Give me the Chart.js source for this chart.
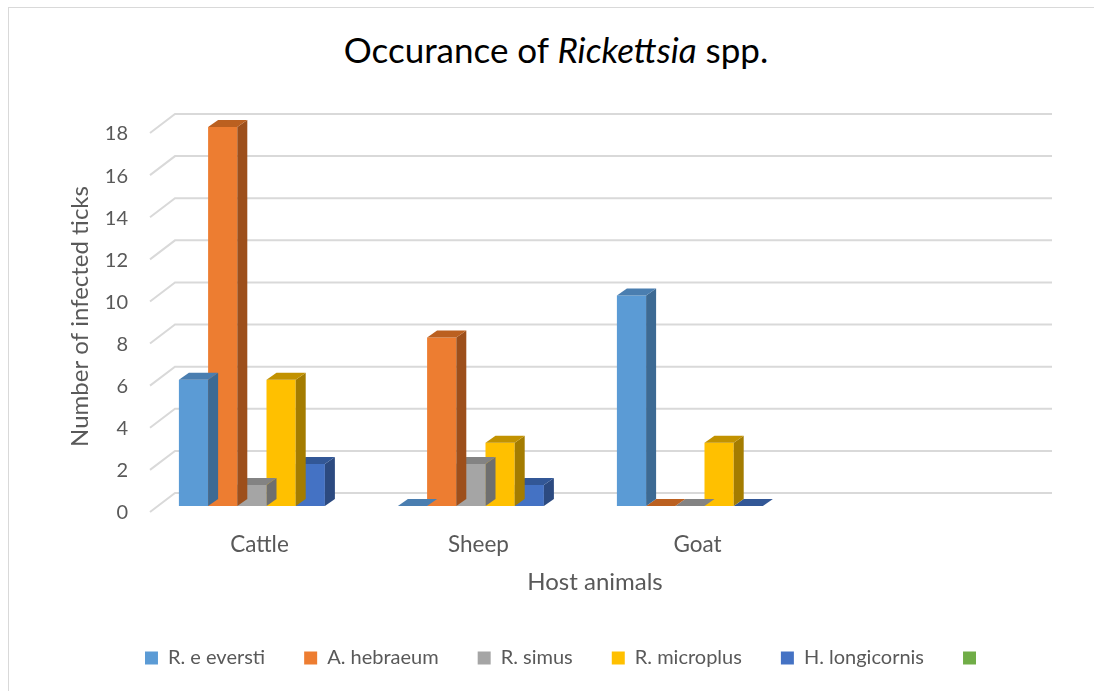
<!DOCTYPE html>
<html>
<head>
<meta charset="utf-8">
<script src="https://cdn.jsdelivr.net/npm/chart.js@4"></script>
<style>
  html, body { margin: 0; padding: 0; background: #fff; }
  #wrap { position: relative; width: 1094px; height: 691px; overflow: hidden; }
  #frame { position: absolute; left: 8px; top: 7px; width: 1200px; height: 800px; border: 1px solid #d9d9d9; }
  #title { position: absolute; left: 0; top: 28px; width: 1112px; text-align: center;
           font-family: Lato, sans-serif; font-size: 35px; color: #000; }
  canvas { position: absolute; left: 0; top: 0; }
</style>
</head>
<body>
<div id="wrap">
  <div id="frame"></div>
  <div id="title">Occurance of <i>Rickettsia</i> spp.</div>
  <canvas id="chart" width="1094" height="691"></canvas>
</div>
<script>
const hosts = ['Cattle', 'Sheep', 'Goat', ''];
const species = ['R. e eversti', 'A. hebraeum', 'R. simus', 'R. microplus', 'H. longicornis', ''];
const rEversti = [6, 0, 10, null];
const aHebraeum = [18, 8, 0, null];
const rSimus = [1, 2, 0, null];
const rMicroplus = [6, 3, 3, null];
const hLongicornis = [2, 1, 0, null];
const unnamed = [null, null, null, null];
const yTicks = [0, 2, 4, 6, 8, 10, 12, 14, 16, 18];

const fronts = ['#5b9bd5', '#ed7d31', '#a5a5a5', '#ffc000', '#4472c4', '#70ad47'];
const tops = ['#4a7eb0', '#bb6020', '#838383', '#c29200', '#325796', '#5a8c38'];
const sides = ['#3d6a93', '#9d4f1b', '#6f6f6f', '#a47c00', '#2c4a80', '#4b7530'];

const DX = 10, DY = 7;

const gridPlugin = {
    id: 'wallGrid',
    afterLayout(chart) {
        // nudge the legend a little to the right, like the original
        const lg = chart.legend;
        if (lg) { lg.left += 24; lg.right += 24; }
    },
    beforeDatasetsDraw(chart) {
        const ctx = chart.ctx;
        const y = chart.scales.y;
        const left = chart.chartArea.left;
        ctx.save();
        ctx.strokeStyle = '#d9d9d9';
        ctx.lineWidth = 2;
        yTicks.forEach(v => {
            const py = y.getPixelForValue(v);
            ctx.beginPath();
            ctx.moveTo(left - 7, py + 6);
            ctx.lineTo(left + 18, py - 13);
            ctx.lineTo(1052, py - 13);
            ctx.stroke();
        });
        ctx.restore();
    },
    afterDatasetDraw(chart, args) {
        const ctx = chart.ctx;
        const i = args.index;
        const meta = args.meta;
        ctx.save();
        meta.data.forEach((bar, j) => {
            const v = chart.data.datasets[i].data[j];
            if (v === null || v === undefined) return;
            const l = bar.x - bar.width / 2;
            const r = bar.x + bar.width / 2;
            const t = bar.y;
            const b = bar.base;
            // side face
            if (b - t > 0) {
                ctx.fillStyle = sides[i];
                ctx.beginPath();
                ctx.moveTo(r, t);
                ctx.lineTo(r + DX, t - DY);
                ctx.lineTo(r + DX, b - DY);
                ctx.lineTo(r, b);
                ctx.closePath();
                ctx.fill();
            }
            // top face
            ctx.fillStyle = tops[i];
            ctx.beginPath();
            ctx.moveTo(l, t);
            ctx.lineTo(l + DX, t - DY);
            ctx.lineTo(r + DX, t - DY);
            ctx.lineTo(r, t);
            ctx.closePath();
            ctx.fill();
        });
        ctx.restore();
    }
};

const seriesValues = [rEversti, aHebraeum, rSimus, rMicroplus, hLongicornis, unnamed];

new Chart(document.getElementById('chart'), {
    type: 'bar',
    data: {
        labels: hosts,
        datasets: species.map((name, i) => ({
            label: name,
            data: seriesValues[i],
            backgroundColor: fronts[i],
            borderWidth: 0,
            clip: false,
        })),
    },
    options: {
        responsive: false,
        animation: false,
        events: [],
        categoryPercentage: 0.8,
        barPercentage: 1,
        layout: { padding: { left: 50, right: 61, top: 127, bottom: 13 } },
        scales: {
            x: {
                grid: { display: false },
                border: { display: false },
                ticks: { color: '#595959', font: { family: 'Lato', size: 22.5 }, padding: 17, labelOffset: -7 },
                title: { display: true, text: 'Host animals', color: '#595959',
                         font: { family: 'Lato', size: 24 }, padding: { top: 4, bottom: 12.6 } },
                afterFit(s) { s.height = 103; },
            },
            y: {
                min: 0,
                max: 18,
                grid: { display: false },
                border: { display: false },
                ticks: { stepSize: 2, color: '#595959', font: { family: 'Lato', size: 20 }, padding: 21, labelOffset: 7 },
                title: { display: true, text: 'Number of infected ticks', color: '#595959',
                         font: { family: 'Lato', size: 24 }, padding: { top: 15.6, bottom: 4 } },
                afterFit(s) { s.width = 107; },
            },
        },
        plugins: {
            legend: {
                position: 'bottom',
                labels: {
                    color: '#595959',
                    font: { family: 'Lato', size: 20 },
                    boxWidth: 13,
                    boxHeight: 13,
                    padding: 39,
                },
            },
            tooltip: { enabled: false },
        },
    },
    plugins: [gridPlugin],
});
</script>
</body>
</html>
